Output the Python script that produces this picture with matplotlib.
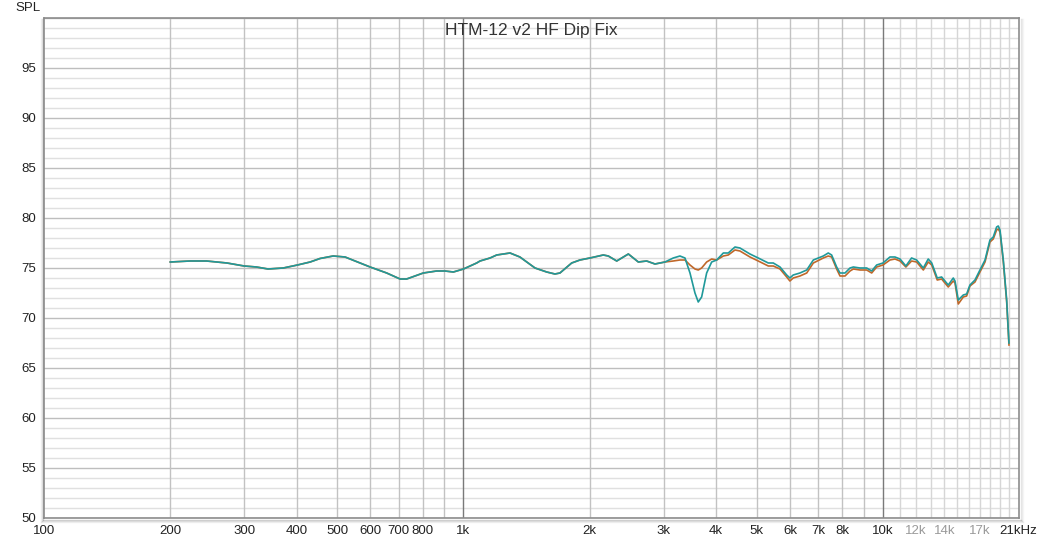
import matplotlib
matplotlib.use("Agg")
import matplotlib.pyplot as plt
from matplotlib.ticker import FixedLocator, NullFormatter, NullLocator
from matplotlib.lines import Line2D

plt.rcParams['font.family'] = ['Liberation Sans', 'DejaVu Sans']

# ---- data ----
freq = [200, 223, 244, 273, 300, 321, 342, 372, 402, 431, 455, 489, 522, 599, 656,
        706, 732, 802, 863, 903, 946, 1000, 1075, 1095, 1157, 1200, 1291, 1363, 1481,
        1579, 1652, 1698, 1811, 1895, 2002, 2154, 2214, 2319, 2472, 2611, 2733, 2861,
        3022, 3163, 3281, 3373, 3467, 3563, 3628, 3696, 3799, 3905, 4014, 4163, 4278,
        4438, 4561, 4819, 5043, 5329, 5477, 5683, 5895, 6000, 6110, 6340, 6580, 6823,
        7206, 7406, 7545, 7755, 7899, 8120, 8346, 8500, 8817, 9145, 9400, 9660, 10000,
        10390, 10680, 10980, 11340, 11700, 12030, 12480, 12820, 13070, 13470, 13800,
        14310, 14710, 14850, 15120, 15540, 15830, 16120, 16570, 17030, 17510, 17990,
        18320, 18660, 18830, 19010, 19360, 19720, 19970]

spl_fixed = [75.6, 75.7, 75.7, 75.5, 75.2, 75.1, 74.9, 75.0, 75.3, 75.6, 75.95, 76.2,
             76.1, 75.1, 74.5, 73.9, 73.9, 74.5, 74.7, 74.7, 74.6, 74.9, 75.5, 75.7,
             76.0, 76.3, 76.5, 76.1, 75.0, 74.6, 74.4, 74.5, 75.5, 75.8, 76.0, 76.3,
             76.2, 75.7, 76.4, 75.6, 75.7, 75.4, 75.6, 75.7, 75.8, 75.8, 75.3, 74.9,
             74.8, 75.0, 75.6, 75.9, 75.8, 76.2, 76.3, 76.8, 76.7, 76.1, 75.7, 75.2,
             75.2, 74.9, 74.1, 73.7, 74.0, 74.2, 74.5, 75.5, 76.0, 76.2, 76.1, 74.9,
             74.2, 74.2, 74.7, 74.9, 74.8, 74.8, 74.5, 75.1, 75.3, 75.8, 75.9, 75.7,
             75.1, 75.7, 75.6, 74.8, 75.6, 75.3, 73.8, 73.9, 73.1, 73.7, 73.5, 71.4,
             72.1, 72.2, 73.2, 73.6, 74.6, 75.6, 77.6, 77.9, 78.8, 78.9, 78.6, 75.6,
             71.6, 67.3]

spl_orig = [75.6, 75.7, 75.7, 75.5, 75.2, 75.1, 74.9, 75.0, 75.3, 75.6, 75.95, 76.2,
            76.1, 75.1, 74.5, 73.9, 73.9, 74.5, 74.7, 74.7, 74.6, 74.9, 75.5, 75.7,
            76.0, 76.3, 76.5, 76.1, 75.0, 74.6, 74.4, 74.5, 75.5, 75.8, 76.0, 76.3,
            76.2, 75.7, 76.4, 75.6, 75.7, 75.4, 75.6, 76.0, 76.2, 76.0, 74.5, 72.5,
            71.6, 72.1, 74.5, 75.6, 75.8, 76.5, 76.5, 77.1, 77.0, 76.4, 76.0, 75.5,
            75.5, 75.1, 74.3, 74.0, 74.3, 74.5, 74.8, 75.8, 76.2, 76.5, 76.3, 75.1,
            74.5, 74.5, 75.0, 75.1, 75.0, 75.0, 74.7, 75.3, 75.5, 76.1, 76.1, 75.9,
            75.2, 76.0, 75.8, 75.0, 75.9, 75.5, 74.0, 74.1, 73.3, 74.0, 73.7, 71.8,
            72.3, 72.4, 73.3, 73.8, 74.8, 75.8, 77.8, 78.1, 79.1, 79.2, 78.8, 75.8,
            71.8, 67.5]

xtick_vals = [100, 200, 300, 400, 500, 600, 700, 800, 1000, 2000, 3000, 4000, 5000,
              6000, 7000, 8000, 10000, 12000, 14000, 17000, 21000]
xtick_labels = ["100", "200", "300", "400", "500", "600", "700", "800", "1k", "2k",
                "3k", "4k", "5k", "6k", "7k", "8k", "10k", "12k", "14k", "17k", "21kHz"]
ytick_vals = [50, 55, 60, 65, 70, 75, 80, 85, 90, 95]
title = "HTM-12 v2 HF Dip Fix"

# ---- figure ----
W, H = 1040, 542
fig = plt.figure(figsize=(W / 100, H / 100), dpi=100)
fig.patch.set_facecolor("white")
L, R, T, B = 44, 1019, 18, 518
ax = fig.add_axes([L / W, 1 - B / H, (R - L) / W, (B - T) / H])
ax.set_xscale("log")
ax.set_xlim(100, 21100)
ax.set_ylim(50, 100)

# grid lines
for v in range(50, 101):
    if v % 5 == 0:
        ax.axhline(v, color="#bebebe", lw=1.0, zorder=1)
    else:
        ax.axhline(v, color="#e0e0e0", lw=1.0, zorder=0.5)
vgrid_mid = [200, 300, 400, 500, 600, 700, 800, 900, 2000, 3000, 4000, 5000, 6000,
             7000, 8000, 9000]
for v in vgrid_mid:
    ax.axvline(v, color="#c2c2c2", lw=1.0, zorder=1)
for v in range(11000, 21000, 1000):
    ax.axvline(v, color="#d6d6d6", lw=1.0, zorder=1)
for v in [1000, 10000]:
    ax.axvline(v, color="#7a7a7a", lw=1.0, zorder=1.2)

ax.plot(freq, spl_fixed, color="#c0682a", lw=1.2, zorder=3)
ax.plot(freq, spl_orig, color="#20999a", lw=1.2, zorder=4)

# ticks
ax.xaxis.set_major_locator(FixedLocator(xtick_vals))
ax.set_xticklabels(xtick_labels)
ax.xaxis.set_minor_locator(NullLocator())
ax.xaxis.set_minor_formatter(NullFormatter())
ax.set_yticks(ytick_vals)
ax.tick_params(axis="both", length=0, labelsize=9.5, colors="#222222", pad=6)
ax.tick_params(axis="x", pad=5)
for lab in ax.get_xticklabels():
    if lab.get_text() in ("12k", "14k", "17k"):
        lab.set_color("#9a9a9a")

for s in ax.spines.values():
    s.set_color("#8c8c8c")
    s.set_linewidth(1.2)

# soft shadow on left/bottom edges
for i, a in enumerate([0.35, 0.2, 0.1]):
    off = (i + 1.5)
    fig.add_artist(Line2D([(L - off) / W, (L - off) / W], [1 - (T + 1) / H, 1 - (B + off) / H],
                          color="#808080", alpha=a, lw=1.0))
    fig.add_artist(Line2D([(L - off) / W, (R + off) / W], [1 - (B + off) / H, 1 - (B + off) / H],
                          color="#808080", alpha=a, lw=1.0))
    fig.add_artist(Line2D([(R + off) / W, (R + off) / W], [1 - (T + 1) / H, 1 - (B + off) / H],
                          color="#a0a0a0", alpha=a * 0.7, lw=1.0))

ax.text(0.5, 1 - 12 / (B - T), title, transform=ax.transAxes, ha="center", va="center",
        fontsize=12.5, color="#333333", zorder=5)
fig.text(28 / W, 1 - 8 / H, "SPL", ha="center", va="center", fontsize=9.5, color="#222222")

fig.savefig("out.png", dpi=100, facecolor="white")
